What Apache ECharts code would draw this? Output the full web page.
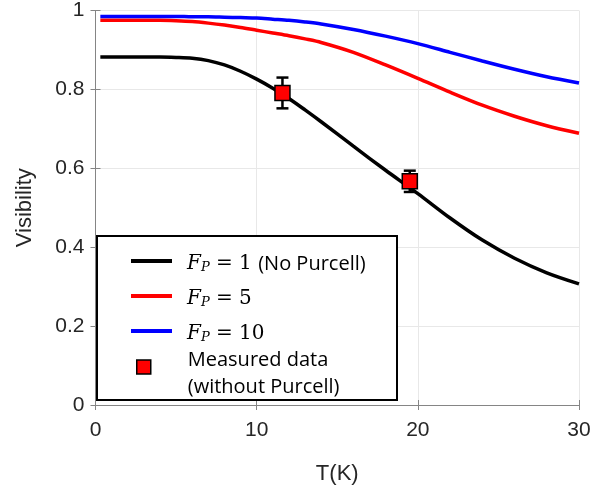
<!DOCTYPE html>
<html>
<head>
<meta charset="utf-8">
<script src="https://cdn.jsdelivr.net/npm/echarts@6/dist/echarts.min.js"></script>
<style>
  html, body { margin: 0; padding: 0; background: #fff; }
  #chart { width: 594px; height: 493px; }
</style>
</head>
<body>
<div id="chart"></div>
<script>
// Temperature samples (K) for the model curves
const temps = [0.3, 2, 4, 5, 6, 7, 8, 9, 10, 11, 12, 13, 14, 16, 18, 20, 22, 24, 26, 28, 30];

// Visibility vs temperature for three Purcell factors
const visFp1  = [0.882, 0.882, 0.882, 0.881, 0.879, 0.873, 0.862, 0.846, 0.826, 0.803, 0.777, 0.748, 0.718,
                 0.656, 0.595, 0.536, 0.474, 0.418, 0.372, 0.335, 0.307];
const visFp5  = [0.975, 0.975, 0.975, 0.974, 0.972, 0.968, 0.963, 0.957, 0.950, 0.943, 0.936, 0.928, 0.919,
                 0.894, 0.862, 0.828, 0.793, 0.760, 0.732, 0.708, 0.689];
const visFp10 = [0.985, 0.985, 0.985, 0.985, 0.984, 0.984, 0.983, 0.982, 0.981, 0.978, 0.975, 0.971, 0.966,
                 0.952, 0.935, 0.916, 0.894, 0.872, 0.851, 0.832, 0.816];

// Measured points with symmetric error
const measT   = [11.6, 19.5];
const measVis = [0.791, 0.567];
const measErr = [0.039, 0.027];

const xTicks = [0, 10, 20, 30];
const yTicks = [0, 0.2, 0.4, 0.6, 0.8, 1];

const names = ['Fp1', 'Fp5', 'Fp10', 'Measured'];
const legendText = {
  Fp1: '{f|F}{p|P}{m| = 1 }{s|(No Purcell)}',
  Fp5: '{f|F}{p|P}{m| = 5}',
  Fp10: '{f|F}{p|P}{m| = 10}',
  Measured: '{t|Measured data}\n{t|(without Purcell)}'
};

const pair = (xs, ys) => xs.map((x, i) => [x, ys[i]]);

const chart = echarts.init(document.getElementById('chart'), null, { renderer: 'canvas' });

const baseFont = 'Liberation Sans, Arial, sans-serif';
const axisGray = '#858585';

const richStyles = {
  f: { fontFamily: 'DejaVu Serif', fontStyle: 'italic', fontSize: 20, color: '#000', lineHeight: 26, verticalAlign: 'bottom', padding: [0, 0, 0, 10] },
  p: { fontFamily: 'DejaVu Serif', fontStyle: 'italic', fontSize: 13, color: '#000', lineHeight: 14, verticalAlign: 'bottom' },
  m: { fontFamily: 'DejaVu Serif', fontSize: 20, color: '#000', lineHeight: 26, verticalAlign: 'bottom' },
  s: { fontFamily: 'Open Sans', fontSize: 20, color: '#000', lineHeight: 26, verticalAlign: 'bottom' },
  t: { fontFamily: 'Open Sans', fontSize: 20, color: '#000', lineHeight: 27, padding: [0, 0, 0, 32] }
};

const option = {
  backgroundColor: '#fff',
  animation: false,
  grid: { left: 95.5, right: 15, top: 10, bottom: 88, containLabel: false },
  xAxis: [{
    type: 'value', min: 0, max: 30, interval: 10,
    name: 'T(K)', nameLocation: 'middle', nameGap: 58,
    nameTextStyle: { fontFamily: baseFont, fontSize: 22, color: '#262626' },
    axisLine: { show: true, lineStyle: { color: axisGray, width: 1 } },
    axisTick: { show: true, inside: true, length: 5, lineStyle: { color: axisGray } },
    axisLabel: { fontFamily: baseFont, fontSize: 21, color: '#262626', margin: 15,
      formatter: v => xTicks.includes(v) ? String(v) : '' },
    splitLine: { show: true, lineStyle: { color: '#e8e8e8', width: 1 } }
  }, {
    type: 'value', position: 'top', min: 0, max: 30, interval: 10,
    axisLine: { show: true, lineStyle: { color: axisGray, width: 1 } },
    axisTick: { show: true, inside: true, length: 5, lineStyle: { color: axisGray } },
    axisLabel: { show: false }, splitLine: { show: false }
  }],
  yAxis: [{
    type: 'value', min: 0, max: 1, interval: 0.2,
    name: 'Visibility', nameLocation: 'middle', nameGap: 60,
    nameTextStyle: { fontFamily: baseFont, fontSize: 22, color: '#262626' },
    axisLine: { show: true, lineStyle: { color: axisGray, width: 1 } },
    axisTick: { show: true, inside: true, length: 5, lineStyle: { color: axisGray } },
    axisLabel: { fontFamily: baseFont, fontSize: 21, color: '#262626', margin: 11,
      formatter: v => {
        const t = yTicks.find(y => Math.abs(y - v) < 1e-9);
        return t === undefined ? '' : String(t);
      } },
    splitLine: { show: true, lineStyle: { color: '#e8e8e8', width: 1 } }
  }, {
    type: 'value', position: 'right', min: 0, max: 1, interval: 0.2,
    axisLine: { show: true, lineStyle: { color: axisGray, width: 1 } },
    axisTick: { show: true, inside: true, length: 5, lineStyle: { color: axisGray } },
    axisLabel: { show: false }, splitLine: { show: false }
  }],
  graphic: [{
    type: 'rect', z: 3,
    shape: { x: 97, y: 236, width: 300, height: 164 },
    style: { fill: '#fff', stroke: '#000', lineWidth: 2 }
  }],
  legend: [{
    orient: 'vertical', left: 126, top: 249,
    itemWidth: 41, itemHeight: 4, itemGap: 15,
    icon: 'rect', z: 6,
    data: names.slice(0, 3),
    formatter: n => legendText[n],
    textStyle: { fontSize: 20, rich: richStyles }
  }, {
    orient: 'vertical', left: 131, top: 345,
    itemWidth: 14, itemHeight: 14,
    icon: 'rect', z: 6,
    data: [{ name: 'Measured', itemStyle: { color: '#ff0000', borderColor: '#000', borderWidth: 1.5 } }],
    formatter: n => legendText[n],
    textStyle: { fontSize: 20, padding: [13, 0, 0, 0], rich: richStyles }
  }],
  series: [{
    name: 'Fp1', type: 'line', data: pair(temps, visFp1), smooth: 0.3,
    showSymbol: false, lineStyle: { color: '#000', width: 3.5 }, itemStyle: { color: '#000' }, z: 3
  }, {
    name: 'Fp5', type: 'line', data: pair(temps, visFp5), smooth: 0.3,
    showSymbol: false, lineStyle: { color: '#ff0000', width: 3.5 }, itemStyle: { color: '#ff0000' }, z: 3
  }, {
    name: 'Fp10', type: 'line', data: pair(temps, visFp10), smooth: 0.3,
    showSymbol: false, lineStyle: { color: '#0000ff', width: 3.5 }, itemStyle: { color: '#0000ff' }, z: 3
  }, {
    name: 'MeasuredErr', type: 'custom', z: 4,
    data: measT.map((t, i) => [t, measVis[i] - measErr[i], measVis[i] + measErr[i]]),
    renderItem: (params, api) => {
      const lo = api.coord([api.value(0), api.value(1)]);
      const hi = api.coord([api.value(0), api.value(2)]);
      const cap = 6;
      const st = { stroke: '#000', lineWidth: 2.5 };
      return {
        type: 'group',
        children: [
          { type: 'line', shape: { x1: lo[0], y1: lo[1], x2: hi[0], y2: hi[1] }, style: st },
          { type: 'line', shape: { x1: lo[0] - cap, y1: lo[1], x2: lo[0] + cap, y2: lo[1] }, style: st },
          { type: 'line', shape: { x1: hi[0] - cap, y1: hi[1], x2: hi[0] + cap, y2: hi[1] }, style: st }
        ]
      };
    }
  }, {
    name: 'Measured', type: 'scatter', z: 5,
    data: pair(measT, measVis), symbol: 'rect', symbolSize: 15,
    itemStyle: { color: '#ff0000', borderColor: '#000', borderWidth: 1.5, opacity: 1 }
  }]
};

chart.setOption(option);
</script>
</body>
</html>
